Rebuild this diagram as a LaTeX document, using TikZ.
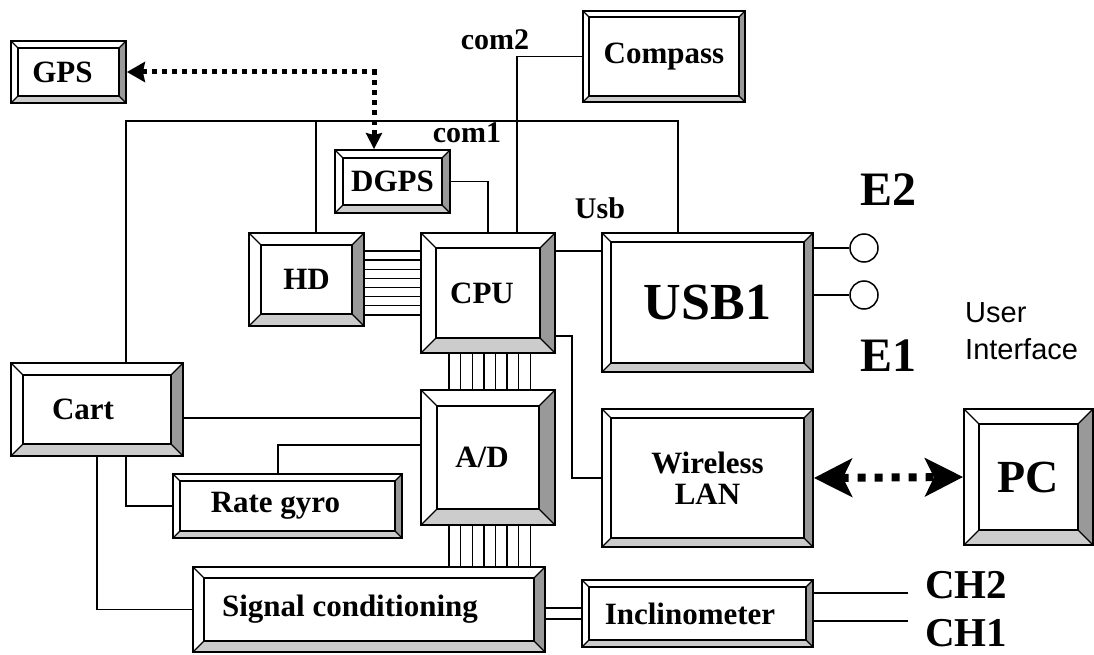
\documentclass[tikz,border=0pt]{standalone}
\usepackage{fontspec}
\setmainfont{Liberation Serif}
\newfontfamily\uifont{Liberation Sans}
\usetikzlibrary{arrows.meta, calc}
\definecolor{cdark}{HTML}{999999}
\definecolor{clight}{HTML}{CCCCCC}
\tikzset{
  bev/.store in=\bevsize, bev=8pt,
  blk/.style={draw, line width=1.8pt, inner sep=0pt, minimum width=#1,
    font=\bfseries\fontsize{31}{31}\selectfont,
    path picture={
      \path (path picture bounding box.north west) coordinate (bnw)
            (path picture bounding box.north east) coordinate (bne)
            (path picture bounding box.south west) coordinate (bsw)
            (path picture bounding box.south east) coordinate (bse);
      \path ($(bnw)+(\bevsize,-\bevsize)$) coordinate (inw)
            ($(bne)+(-\bevsize,-\bevsize)$) coordinate (ine)
            ($(bsw)+(\bevsize,\bevsize)$) coordinate (isw)
            ($(bse)+(-\bevsize,\bevsize)$) coordinate (ise);
      \fill[cdark] (bne) -- (bse) -- (ise) -- (ine) -- cycle;
      \fill[clight] (bsw) -- (bse) -- (ise) -- (isw) -- cycle;
      \draw[line width=1.2pt] (bnw) -- (inw) (bne) -- (ine) (bsw) -- (isw) (bse) -- (ise);
      \draw[line width=1.8pt] (inw) rectangle (ise);
    }},
  nudge/.style={execute at begin node=\hspace*{#1}},
  wire/.style={line width=1.5pt},
  dots/.style={line width=5pt, dash pattern=on 5pt off 5pt,
    {Stealth[length=18pt, width=20pt, inset=2pt]}-{Stealth[length=16pt, width=16pt, inset=2pt]}},
  bigdots/.style={line width=8pt, dash pattern=on 8pt off 9pt,
    {Stealth[length=38pt, width=38pt, inset=9pt]}-{Stealth[length=38pt, width=38pt, inset=9pt]}},
  tag/.style={font=\bfseries\fontsize{30}{30}\selectfont, inner sep=0pt},
  big/.style={font=\bfseries\fontsize{#1}{#1}\selectfont, inner sep=0pt},
  port/.style={circle, draw, line width=1.5pt, minimum size=28pt, inner sep=0pt},
}
\begin{document}
\begin{tikzpicture}[x=1pt, y=-1pt]
  \useasboundingbox (0,0) rectangle (1094,655);
  % boxes
  \node[blk=115pt, minimum height=62pt, bev=7pt, nudge=-12pt] (gps) at (68.5,72) {GPS};
  \node[blk=162pt, minimum height=91pt, bev=6pt] (compass) at (664,56.5) {Compass};
  \node[blk=115pt, minimum height=63pt, bev=8pt] (dgps) at (392.5,181.5) {DGPS};
  \node[blk=115pt, minimum height=93pt, bev=12pt] (hd) at (306.5,279.5) {HD};
  \node[blk=134pt, minimum height=120pt, bev=15pt, nudge=-12pt] (cpu) at (488,293) {CPU};
  \node[blk=211pt, minimum height=139pt, bev=9pt, font=\bfseries\fontsize{52}{52}\selectfont] (usb) at (707.5,302.5) {USB1};
  \node[blk=172pt, minimum height=93pt, bev=12pt, nudge=-28pt] (cart) at (97,409.5) {Cart};
  \node[blk=134pt, minimum height=135pt, bev=16pt, nudge=-12pt] (ad) at (488,457.5) {A/D};
  \node[blk=229pt, minimum height=64pt, bev=7pt, nudge=-24pt] (gyro) at (287.5,506) {Rate gyro};
  \node[blk=211pt, minimum height=138pt, bev=9pt, align=center] (wlan) at (707.5,478) {Wireless\\LAN};
  \node[blk=129pt, minimum height=136pt, bev=15pt, font=\bfseries\fontsize{46}{46}\selectfont] (pc) at (1028.5,477) {PC};
  \node[blk=352pt, minimum height=85pt, bev=11pt, nudge=-38pt] (sc) at (369,609.5) {Signal conditioning};
  \node[blk=231pt, minimum height=67pt, bev=7pt, nudge=-15pt] (incl) at (697.5,613.5) {Inclinometer};

  % labels
  \node[tag] (com2) at (495,40) {com2};
  \node[tag] (com1) at (467,133) {com1};
  \node[tag] (usbl) at (600,208) {Usb};
  \node[big=48] (e2) at (888,190) {E2};
  \node[big=48] (e1) at (888,356) {E1};
  \node[big=41] (ch2) at (966,585) {CH2};
  \node[big=41] (ch1) at (966,633) {CH1};
  \node[anchor=north west, align=left, inner sep=0pt, font=\uifont\fontsize{29}{37}\selectfont] (ui) at (965,302) {User\\Interface};

  % ports
  \node[port] (e2c) at (864,248) {};
  \node[port] (e1c) at (864,295) {};

  % wiring
  \coordinate (bus) at (316,121);
  \coordinate (gk) at (374,72);
  \coordinate (c2e) at (908,593);
  \coordinate (c1e) at (908,621);
  \draw[wire] ([xshift=29pt]cart.north) |- (bus) -| ([xshift=-29.5pt]usb.north);
  \draw[wire] (bus) -- (bus |- hd.north);
  \draw[wire] (compass.west) -| ([xshift=29pt]cpu.north);
  \draw[wire] (dgps.east) -| (cpu.north);
  \draw[wire] ([yshift=-19pt]cpu.north east) -- ([yshift=-19pt]usb.north west);
  \draw[wire] (usb.east |- e2c) -- (e2c);
  \draw[wire] (usb.east |- e1c) -- (e1c);
  \foreach \i in {0,...,7}
    \draw[wire] ([yshift=-19pt-\i*9.1pt]hd.north east) -- ([yshift=-19pt-\i*9.1pt]hd.north east -| cpu.west);
  \foreach \i in {0,...,7}{
    \draw[wire] ([xshift=29pt+\i*11.6pt]cpu.south west) -- ([xshift=29pt+\i*11.6pt]cpu.south west |- ad.north);
    \draw[wire] ([xshift=29pt+\i*11.6pt]ad.south west) -- ([xshift=29pt+\i*11.6pt]ad.south west |- sc.north);
  }
  \draw[wire] ([yshift=-8.5pt]cart.east) -- ([yshift=-8.5pt]cart.east -| ad.west);
  \draw[wire] ([xshift=-9.5pt]gyro.north) |- ([yshift=-56pt]ad.north west);
  \draw[wire] ([xshift=29pt]cart.south) |- (gyro.west);
  \draw[wire] (cart.south) |- (sc.west);
  \draw[wire] ([yshift=18pt]cpu.south east) -| ([xshift=-29pt]wlan.west) -- (wlan.west);
  \draw[wire] ([yshift=5.5pt]incl.west) -- ([yshift=5.5pt]incl.west -| sc.east);
  \draw[wire] ([yshift=-5.5pt]incl.west) -- ([yshift=-5.5pt]incl.west -| sc.east);
  \draw[wire] (incl.east |- c2e) -- (c2e);
  \draw[wire] (incl.east |- c1e) -- (c1e);

  % radio links
  \draw[dots] (gps.east) -- (gk) -- (gk |- dgps.north);
  \draw[bigdots] (wlan.east) -- (pc.west);
\end{tikzpicture}
\end{document}
